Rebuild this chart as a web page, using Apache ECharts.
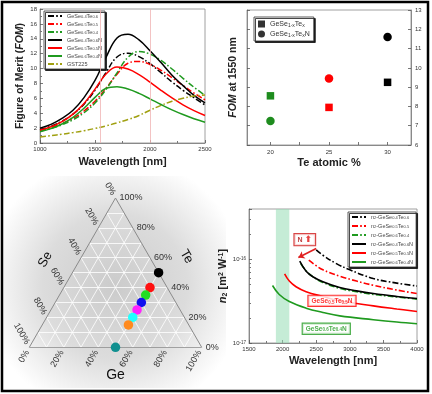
<!DOCTYPE html>
<html><head><meta charset="utf-8">
<script src="https://cdn.jsdelivr.net/npm/echarts@6/dist/echarts.min.js"></script>
<style>html,body{margin:0;padding:0;background:#fff}#c{width:432px;height:394px}</style>
</head><body><div id="c"></div><script>
// ---------- Panel A: FOM vs wavelength ----------
const fomWl = [1000,1100,1200,1300,1400,1500,1600,1700,1800,1900,2000,2100,2200,2300,2400,2500];
const fomGeSe04Te06 = [1.8,2.27,2.92,3.87,5.22,7.1,9.46,11.56,12.07,11.6,10.65,9.45,8.2,7.08,6.08,5.1];
const fomGeSe05Te05 = [1.7,2.09,2.61,3.31,4.3,5.62,7.34,9.25,10.71,10.96,10.55,9.77,8.77,7.72,6.71,5.8];
const fomGeSe06Te04 = [1.6,1.96,2.45,3.12,4.06,5.38,7.19,9.42,11.51,12.3,11.94,11.09,9.94,8.69,7.49,6.4];
const fomGeSe04Te06N = [2.0,2.5,3.3,4.4,6.1,8.4,11.5,14.1,14.6,13.85,12.4,10.8,9.1,7.7,6.4,5.4];
const fomGeSe05Te05N = [1.7,2.18,2.87,3.87,5.32,7.24,9.26,10.2,9.93,9.19,8.18,7.08,6.05,5.13,4.35,3.7];
const fomGeSe06Te04N = [1.5,1.93,2.55,3.44,4.66,6.13,7.35,7.57,7.25,6.67,5.93,5.17,4.45,3.82,3.26,2.8];
const fomGST225 = [0.8,0.98,1.18,1.4,1.65,1.95,2.3,2.7,3.15,3.7,4.4,5.05,5.6,6.0,6.3,6.45];
const refWavelengths = [1550, 2000];

// ---------- Panel B: FOM at 1550 nm ----------
const teAtomic = [20, 25, 30];
const fom1550Plain = [8.55, 7.95, 9.25];
const fom1550N = [7.25, 9.45, 11.6];
const teColors = ['#1e8c1e', '#ff0000', '#000000'];
const teTickLabels = [20, 25, 30];
const teTicks = [20, 22.5, 25, 27.5, 30];

// ---------- Panel C: ternary (Ge, Se, Te in %) ----------
const ternGe = [50, 50, 50, 50, 50, 50, 50, 50];
const ternTe = [50, 40, 35, 30, 25, 20, 15, 0];
const ternColors = ['#000000', '#ff1010', '#22dd22', '#1010ee', '#ff22ff', '#22ffff', '#ff8a1e', '#109090'];
const ternTickLabels = [0, 20, 40, 60, 80, 100];

// ---------- Panel D: n2 vs wavelength ----------
const n2WlB = [2500, 2600, 2800, 3000, 3350, 3700, 4000];
const n2GeSe04Te06 = [1.30e-16, 1.12e-16, 8.9e-17, 7.5e-17, 5.9e-17, 5.2e-17, 4.8e-17];
const n2WlR = [2390, 2500, 2600, 2850, 3100, 3350, 3700, 4000];
const n2GeSe05Te05 = [9.8e-17, 8.4e-17, 7.5e-17, 6.3e-17, 5.5e-17, 4.9e-17, 4.3e-17, 3.9e-17];
const n2WlG = [2270, 2350, 2450, 2600, 2850, 3100, 3350, 3700, 4000];
const n2GeSe06Te04 = [8.9e-17, 7.3e-17, 6.2e-17, 5.3e-17, 4.5e-17, 4.1e-17, 3.8e-17, 3.55e-17, 3.35e-17];
const n2WlBN = [2255, 2350, 2450, 2600, 2850, 3100, 3350, 3700, 4000];
const n2GeSe04Te06N = [9.5e-17, 7.2e-17, 6.2e-17, 5.4e-17, 4.6e-17, 4.2e-17, 3.9e-17, 3.6e-17, 3.4e-17];
const n2WlRN = [2030, 2100, 2200, 2350, 2600, 2850, 3350, 3700, 4000];
const n2GeSe05Te05N = [6.7e-17, 5.5e-17, 4.7e-17, 4.1e-17, 3.6e-17, 3.2e-17, 2.78e-17, 2.55e-17, 2.38e-17];
const n2WlGN = [1850, 1950, 2100, 2350, 2600, 2850, 3350, 3700, 4000];
const n2GeSe06Te04N = [4.87e-17, 3.8e-17, 3.13e-17, 2.61e-17, 2.32e-17, 2.11e-17, 1.9e-17, 1.78e-17, 1.7e-17];
const tpaBand = [1900, 2100];
const arrowFrom = [2500, 1.35e-16];
const arrowTo = [2235, 1.05e-16];
const annotations = [
  {wl: 2330, n2: 1.72e-16, text: '{n|N} {a|⬆}', kind: 'N'},
  {wl: 2735, n2: 3.19e-17, text: 'GeSe{s|0.5}Te{s|0.5}N', kind: 'R'},
  {wl: 2650, n2: 1.48e-17, text: 'GeSe{s|0.6}Te{s|0.4}N', kind: 'G'}
];

const FF = 'Arial, "Liberation Sans", sans-serif';
const richNames = {
  'GeSe0.4Te0.6': 'GeSe{s|0.4}Te{s|0.6}',
  'GeSe0.5Te0.5': 'GeSe{s|0.5}Te{s|0.5}',
  'GeSe0.6Te0.4': 'GeSe{s|0.6}Te{s|0.4}',
  'GeSe0.4Te0.6N': 'GeSe{s|0.4}Te{s|0.6}N',
  'GeSe0.5Te0.5N': 'GeSe{s|0.5}Te{s|0.5}N',
  'GeSe0.6Te0.4N': 'GeSe{s|0.6}Te{s|0.4}N',
  'GST225': 'GST225',
  'GeSe1-xTex': 'GeSe{s|1-x}Te{s|x}',
  'GeSe1-xTexN': 'GeSe{s|1-x}Te{s|x}N',
  'n2-GeSe0.4Te0.6': 'n{s|2}-GeSe{s|0.4}Te{s|0.6}',
  'n2-GeSe0.5Te0.5': 'n{s|2}-GeSe{s|0.5}Te{s|0.5}',
  'n2-GeSe0.6Te0.4': 'n{s|2}-GeSe{s|0.6}Te{s|0.4}',
  'n2-GeSe0.4Te0.6N': 'n{s|2}-GeSe{s|0.4}Te{s|0.6}N',
  'n2-GeSe0.5Te0.5N': 'n{s|2}-GeSe{s|0.5}Te{s|0.5}N',
  'n2-GeSe0.6Te0.4N': 'n{s|2}-GeSe{s|0.6}Te{s|0.4}N'
};
const DD = [6, 2.2, 1.6, 2.2];
const zip = (xs, ys) => xs.map((x, i) => [x, ys[i]]);
const GREEN = '#1f9a1f';

function lineSeries(name, xs, ys, color, dashed, axis, width) {
  return {
    name, type: 'line', xAxisIndex: axis, yAxisIndex: axis,
    data: zip(xs, ys), smooth: 0.4, showSymbol: false, symbol: 'none',
    lineStyle: {color, width: width || 1.5, type: dashed ? DD : 'solid'},
    itemStyle: {color}, z: 3
  };
}

function legendBase(extra) {
  return Object.assign({
    orient: 'vertical', backgroundColor: '#fff', borderColor: '#333', borderWidth: 0.8,
    shadowColor: 'rgba(0,0,0,0.9)', shadowOffsetX: 1.5, shadowOffsetY: 1.5, shadowBlur: 0,
    itemWidth: 14, itemHeight: 5, itemGap: 2, padding: [2, 3, 2, 3],
    formatter: n => richNames[n] || n,
    selectedMode: false,
    itemStyle: {opacity: 0},
    textStyle: {fontFamily: FF, fontSize: 5.5, color: '#444', lineHeight: 6,
      rich: {s: {fontFamily: FF, fontSize: 4, color: '#444', verticalAlign: 'bottom', lineHeight: 6}}}
  }, extra);
}

const axisCommon = {
  axisLine: {show: true, lineStyle: {color: '#777', width: 0.8}},
  axisTick: {show: true, inside: true, length: 3, lineStyle: {color: '#555', width: 0.8}},
  axisLabel: {fontFamily: FF, fontSize: 6, color: '#333', margin: 3},
  splitLine: {show: false},
  nameTextStyle: {fontFamily: FF, fontSize: 11, fontWeight: 'bold', color: '#222'}
};
const ax = o => {
  const a = Object.assign({}, JSON.parse(JSON.stringify(axisCommon)), o);
  if (!a.axisLabel.formatter && a.type !== 'log') a.axisLabel.formatter = v => String(v);
  return a;
};

const chart = echarts.init(document.getElementById('c'), null, {renderer: 'canvas'});

// ternary helpers (composition -> triangle plane)
const H = Math.sqrt(3) / 2;
const tern = (ge, te) => [ge / 100 + 0.5 * te / 100, H * te / 100];

const gridLines = [];
for (let k = 10; k < 100; k += 10) {
  gridLines.push({coords: [tern(0, k), tern(100 - k, k)]});        // const Te
  gridLines.push({coords: [tern(k, 0), tern(k, 100 - k)]});        // const Ge
  gridLines.push({coords: [tern(0, 100 - k), tern(100 - k, 0)]});  // const Se
}
const edges = [{coords: [tern(0, 0), tern(100, 0)]}, {coords: [tern(100, 0), tern(0, 100)]}, {coords: [tern(0, 100), tern(0, 0)]}];

const series = [
  lineSeries('GeSe0.4Te0.6', fomWl, fomGeSe04Te06, '#000', true, 0),
  lineSeries('GeSe0.5Te0.5', fomWl, fomGeSe05Te05, '#ff0000', true, 0),
  lineSeries('GeSe0.6Te0.4', fomWl, fomGeSe06Te04, GREEN, true, 0),
  lineSeries('GeSe0.4Te0.6N', fomWl, fomGeSe04Te06N, '#000', false, 0),
  lineSeries('GeSe0.5Te0.5N', fomWl, fomGeSe05Te05N, '#ff0000', false, 0),
  lineSeries('GeSe0.6Te0.4N', fomWl, fomGeSe06Te04N, GREEN, false, 0),
  lineSeries('GST225', fomWl, fomGST225, '#a0a010', true, 0),
  {
    type: 'line', xAxisIndex: 0, yAxisIndex: 0, data: [], silent: true,
    markLine: {silent: true, symbol: 'none', label: {show: false},
      lineStyle: {color: '#f0b4b4', width: 0.8, type: 'solid'},
      data: refWavelengths.map(v => ({xAxis: v}))}
  },
  {
    name: 'GeSe1-xTex', type: 'scatter', xAxisIndex: 1, yAxisIndex: 1, symbol: 'rect', symbolSize: 7.5,
    data: teAtomic.map((t, i) => ({value: [t, fom1550Plain[i]], itemStyle: {color: teColors[i], opacity: 1}})), z: 4
  },
  {
    name: 'GeSe1-xTexN', type: 'scatter', xAxisIndex: 1, yAxisIndex: 1, symbol: 'circle', symbolSize: 8.5,
    data: teAtomic.map((t, i) => ({value: [t, fom1550N[i]], itemStyle: {color: teColors[i], opacity: 1}})), z: 4
  },
  {
    type: 'lines', coordinateSystem: 'cartesian2d', xAxisIndex: 2, yAxisIndex: 2, silent: true,
    lineStyle: {color: 'rgba(255,255,255,0.8)', width: 1, opacity: 1}, data: gridLines, z: 2
  },
  {
    type: 'lines', coordinateSystem: 'cartesian2d', xAxisIndex: 2, yAxisIndex: 2, silent: true,
    lineStyle: {color: '#8a8a8a', width: 1, opacity: 1}, data: edges, z: 3
  },
  {
    type: 'scatter', xAxisIndex: 2, yAxisIndex: 2, symbolSize: 9.5, silent: true,
    data: ternGe.map((g, i) => ({value: tern(g, ternTe[i]), itemStyle: {color: ternColors[i], opacity: 1}})), z: 5
  },
  {
    type: 'line', xAxisIndex: 3, yAxisIndex: 3, data: [], silent: true,
    markArea: {silent: true, itemStyle: {color: 'rgba(150,220,180,0.55)'},
      data: [[{xAxis: tpaBand[0]}, {xAxis: tpaBand[1]}]]}
  },
  lineSeries('n2-GeSe0.4Te0.6', n2WlB, n2GeSe04Te06, '#000', true, 3, 1.6),
  lineSeries('n2-GeSe0.5Te0.5', n2WlR, n2GeSe05Te05, '#ff0000', true, 3, 1.6),
  lineSeries('n2-GeSe0.6Te0.4', n2WlG, n2GeSe06Te04, GREEN, true, 3, 1.6),
  lineSeries('n2-GeSe0.4Te0.6N', n2WlBN, n2GeSe04Te06N, '#000', false, 3, 1.6),
  lineSeries('n2-GeSe0.5Te0.5N', n2WlRN, n2GeSe05Te05N, '#ff0000', false, 3, 1.6),
  lineSeries('n2-GeSe0.6Te0.4N', n2WlGN, n2GeSe06Te04N, GREEN, false, 3, 1.6),
  {
    type: 'lines', coordinateSystem: 'cartesian2d', xAxisIndex: 3, yAxisIndex: 3, silent: true,
    symbol: ['none', 'arrow'], symbolSize: 6,
    lineStyle: {color: '#e02020', width: 1.6, opacity: 1}, data: [{coords: [arrowFrom, arrowTo]}], z: 5
  },
  {
    type: 'scatter', xAxisIndex: 3, yAxisIndex: 3, symbolSize: 0, silent: true, z: 6,
    data: annotations.map(a => {
      const c = a.kind === 'G' ? GREEN : (a.kind === 'N' ? '#d01818' : '#ff0000');
      return {value: [a.wl, a.n2], label: {
        show: true, position: 'inside', formatter: a.text,
        backgroundColor: '#fff', borderColor: c, borderWidth: 1.2, padding: a.kind === 'N' ? [1, 3] : [2, 3, 1, 3],
        fontFamily: FF, fontSize: 6.5, fontWeight: 'bold', color: c,
        rich: {s: {fontSize: 4.5, fontWeight: 'bold', color: c, verticalAlign: 'bottom', fontFamily: FF},
               n: {fontSize: 7, fontWeight: 'bold', color: '#b01010', fontFamily: FF},
               a: {fontSize: 9, fontWeight: 'bold', color: '#e01010', fontFamily: '"DejaVu Sans", sans-serif'}}
      }};
    })
  }
];

const option = {
  animation: false,
  backgroundColor: '#fff',
  grid: [
    {left: 40, top: 9, width: 165, height: 134, show: true, borderColor: '#888', borderWidth: 0.8, backgroundColor: 'transparent'},
    {left: 247, top: 10, width: 164, height: 135, show: true, borderColor: '#888', borderWidth: 0.8},
    {left: 29.3, top: 198, width: 172.4, height: 149.3},
    {left: 249, top: 209, width: 168, height: 134, show: true, borderColor: '#888', borderWidth: 0.8}
  ],
  xAxis: [
    ax({gridIndex: 0, type: 'value', min: 1000, max: 2500, interval: 500, name: 'Wavelength [nm]',
        nameLocation: 'middle', nameGap: 13.5, minorTick: {show: true, splitNumber: 2, length: 2, lineStyle: {color: '#777'}}}),
    ax({gridIndex: 1, type: 'value', min: 18, max: 32, name: 'Te atomic %', nameLocation: 'middle', nameGap: 12.5,
        axisLabel: {fontFamily: FF, fontSize: 6, color: '#333', margin: 4, customValues: teTickLabels},
        axisTick: {show: true, inside: true, length: 3, customValues: teTicks, lineStyle: {color: '#555', width: 0.8}}}),
    {gridIndex: 2, type: 'value', min: 0, max: 1, show: false},
    ax({gridIndex: 3, type: 'value', min: 1500, max: 4000, interval: 500, name: 'Wavelength [nm]',
        nameLocation: 'middle', nameGap: 12, minorTick: {show: true, splitNumber: 2, length: 2, lineStyle: {color: '#777'}}})
  ],
  yAxis: [
    ax({gridIndex: 0, type: 'value', min: 0, max: 18, interval: 2, name: 'Figure of Merit ({i|FOM})',
        nameLocation: 'middle', nameGap: 14,
        nameTextStyle: {fontFamily: FF, fontSize: 10.5, fontWeight: 'bold', color: '#222',
          rich: {i: {fontFamily: FF, fontSize: 10.5, fontWeight: 'bold', fontStyle: 'italic', color: '#222'}}},
        minorTick: {show: true, splitNumber: 2, length: 2, lineStyle: {color: '#777'}}}),
    ax({gridIndex: 1, type: 'value', min: 6, max: 13, interval: 1, position: 'right',
        axisLabel: {fontFamily: FF, fontSize: 6, color: '#333', margin: 4}}),
    {gridIndex: 2, type: 'value', min: 0, max: H, show: false},
    ax({gridIndex: 3, type: 'log', logBase: 10, min: 1e-17, max: 4e-16,
        name: '{i|n}{s|2} [m{p|2} W{p|-1}]', nameLocation: 'middle', nameGap: 18,
        nameTextStyle: {fontFamily: FF, fontSize: 11, fontWeight: 'bold', color: '#222',
          rich: {i: {fontFamily: FF, fontSize: 11, fontWeight: 'bold', fontStyle: 'italic', color: '#222'},
                 s: {fontFamily: FF, fontSize: 7, fontWeight: 'bold', color: '#222', verticalAlign: 'bottom'},
                 p: {fontFamily: FF, fontSize: 7, fontWeight: 'bold', color: '#222', verticalAlign: 'top'}}},
        axisLabel: {fontFamily: FF, fontSize: 6, color: '#333', margin: 3, showMaxLabel: false,
          formatter: v => '10{p|' + Math.round(Math.log10(v)) + '}',
          rich: {p: {fontSize: 4.5, fontFamily: FF, color: '#333', verticalAlign: 'top'}}},
        minorTick: {show: true, splitNumber: 9, length: 2, lineStyle: {color: '#777'}}}),
    ax({gridIndex: 1, type: 'value', min: 6, max: 13, interval: 1, position: 'left',
        axisLabel: {show: false}, name: '{i|FOM} at 1550 nm', nameLocation: 'middle', nameGap: 8,
        nameTextStyle: {fontFamily: FF, fontSize: 10.5, fontWeight: 'bold', color: '#222',
          rich: {i: {fontFamily: FF, fontSize: 10.5, fontWeight: 'bold', fontStyle: 'italic', color: '#222'}}}})
  ],
  legend: [
    legendBase({left: 44, top: 11, data: ['GeSe0.4Te0.6', 'GeSe0.5Te0.5', 'GeSe0.6Te0.4', 'GeSe0.4Te0.6N', 'GeSe0.5Te0.5N', 'GeSe0.6Te0.4N', 'GST225']}),
    legendBase({left: 254, top: 17, itemWidth: 7, itemHeight: 7, itemGap: 2, padding: [3, 4, 3, 4],
      itemStyle: {},
      textStyle: {fontFamily: FF, fontSize: 7, color: '#333', lineHeight: 8,
        rich: {s: {fontFamily: FF, fontSize: 5, color: '#333', verticalAlign: 'bottom', lineHeight: 8}}},
      data: [{name: 'GeSe1-xTex', icon: 'rect', itemStyle: {color: '#000'}},
             {name: 'GeSe1-xTexN', icon: 'circle', itemStyle: {color: '#000'}}]}),
    legendBase({left: 348, top: 212, itemWidth: 14, itemGap: 3,
      data: ['n2-GeSe0.4Te0.6', 'n2-GeSe0.5Te0.5', 'n2-GeSe0.6Te0.4', 'n2-GeSe0.4Te0.6N', 'n2-GeSe0.5Te0.5N', 'n2-GeSe0.6Te0.4N']})
  ],
  graphic: [
    {type: 'rect', z: -10, shape: {x: 4, y: 176, width: 222, height: 212},
     style: {fill: new echarts.graphic.RadialGradient(0.5, 0.52, 0.62, [
       {offset: 0, color: '#cbcbcb'}, {offset: 0.55, color: '#dcdcdc'}, {offset: 1, color: '#ffffff'}])}},
    {type: 'rect', z: 100, shape: {x: 2, y: 2, width: 426, height: 389},
     style: {fill: 'none', stroke: '#000', lineWidth: 2.5}}
  ],
  series
};
chart.setOption(option);

// ternary tick labels positioned through the ternary grid's own scales
const px = p => chart.convertToPixel({gridIndex: 2}, p);
const txt = [];
const pctStyle = (t, align) => ({text: t + '%', fontSize: 9, fontFamily: FF, fill: '#333', align, verticalAlign: 'middle'});
ternTickLabels.forEach(v => {
  let p = px(tern(100 - v, v));
  txt.push({type: 'text', z: 50, x: p[0] + 4, y: p[1], style: pctStyle(v, 'left')});
  p = px(tern(v, 0));
  txt.push({type: 'text', z: 50, x: p[0] - 2, y: p[1] + 3.5, rotation: Math.PI / 3, style: pctStyle(v, 'right')});
  p = px(tern(0, 100 - v));
  txt.push({type: 'text', z: 50, x: p[0] - 2, y: p[1] - 3.5, rotation: -Math.PI / 3, style: pctStyle(v, 'right')});
});
const nameStyle = (t, fs) => ({text: t, fontSize: fs, fontFamily: FF, fill: '#111', align: 'center', verticalAlign: 'middle'});
let m = px(tern(50, 50));
txt.push({type: 'text', z: 50, x: m[0] + 28, y: m[1] - 16, rotation: -Math.PI / 3, style: nameStyle('Te', 13)});
m = px(tern(0, 50));
txt.push({type: 'text', z: 50, x: m[0] - 27, y: m[1] - 13, rotation: Math.PI / 3, style: nameStyle('Se', 13)});
m = px(tern(50, 0));
txt.push({type: 'text', z: 50, x: m[0], y: m[1] + 27.5, style: nameStyle('Ge', 14)});
chart.setOption({graphic: option.graphic.concat(txt)});
</script></body></html>
